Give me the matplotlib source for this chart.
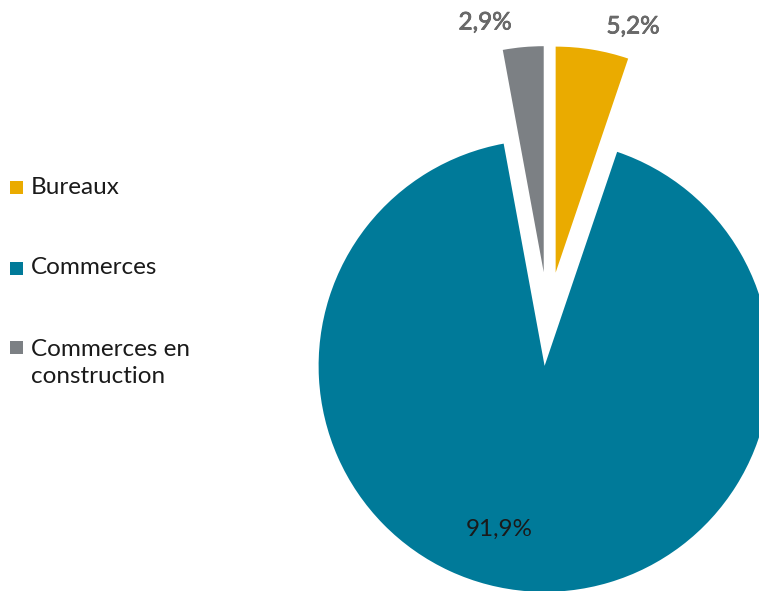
import matplotlib
matplotlib.use("Agg")
import matplotlib.pyplot as plt
from matplotlib.patches import Rectangle
import matplotlib.patheffects as pe

categories = ["Bureaux", "Commerces", "Commerces en\nconstruction"]
values = [5.2, 91.9, 2.9]
pct_labels = ["5,2%", "91,9%", "2,9%"]
colors = ["#EAAB00", "#007A99", "#7C8084"]

plt.rcParams['font.family'] = ['Lato', 'DejaVu Sans']

W, H = 759, 591
fig = plt.figure(figsize=(W / 100, H / 100), dpi=100)
ax = fig.add_axes([0, 0, 1, 1])

R = 226
cx, cy = 548, H - 319
wedges, _ = ax.pie(values, colors=colors, startangle=90, counterclock=False,
                   radius=R, center=(cx, cy), explode=[47, 47, 47],
                   wedgeprops=dict(linewidth=0))
ax.set_xlim(0, W)
ax.set_ylim(0, H)
ax.set_aspect('equal')
ax.axis('off')

FS = 17.5
halo = [pe.withStroke(linewidth=0.5, foreground='#555555')]
# percentage labels
ax.text(633, H - 27, pct_labels[0], ha='center', va='center', fontsize=FS,
        color='#6a6a6a', path_effects=halo)
ax.text(499, H - 529, pct_labels[1], ha='center', va='center', fontsize=FS, color='#1a1a1a')
ax.text(485, H - 23, pct_labels[2], ha='center', va='center', fontsize=FS,
        color='#6a6a6a', path_effects=halo)

# legend
leg_y = [187, 268, 347]
for lab, col, y in zip(categories, colors, leg_y):
    ax.add_patch(Rectangle((10, H - y - 7), 13, 13, color=col, linewidth=0))
    if '\n' in lab:
        ax.text(31, H - (y + 379) / 2, lab, ha='left', va='center', fontsize=FS,
                color='#1a1a1a', linespacing=1.35)
    else:
        ax.text(31, H - y, lab, ha='left', va='center', fontsize=FS, color='#1a1a1a')

fig.savefig("out.png", dpi=100)
